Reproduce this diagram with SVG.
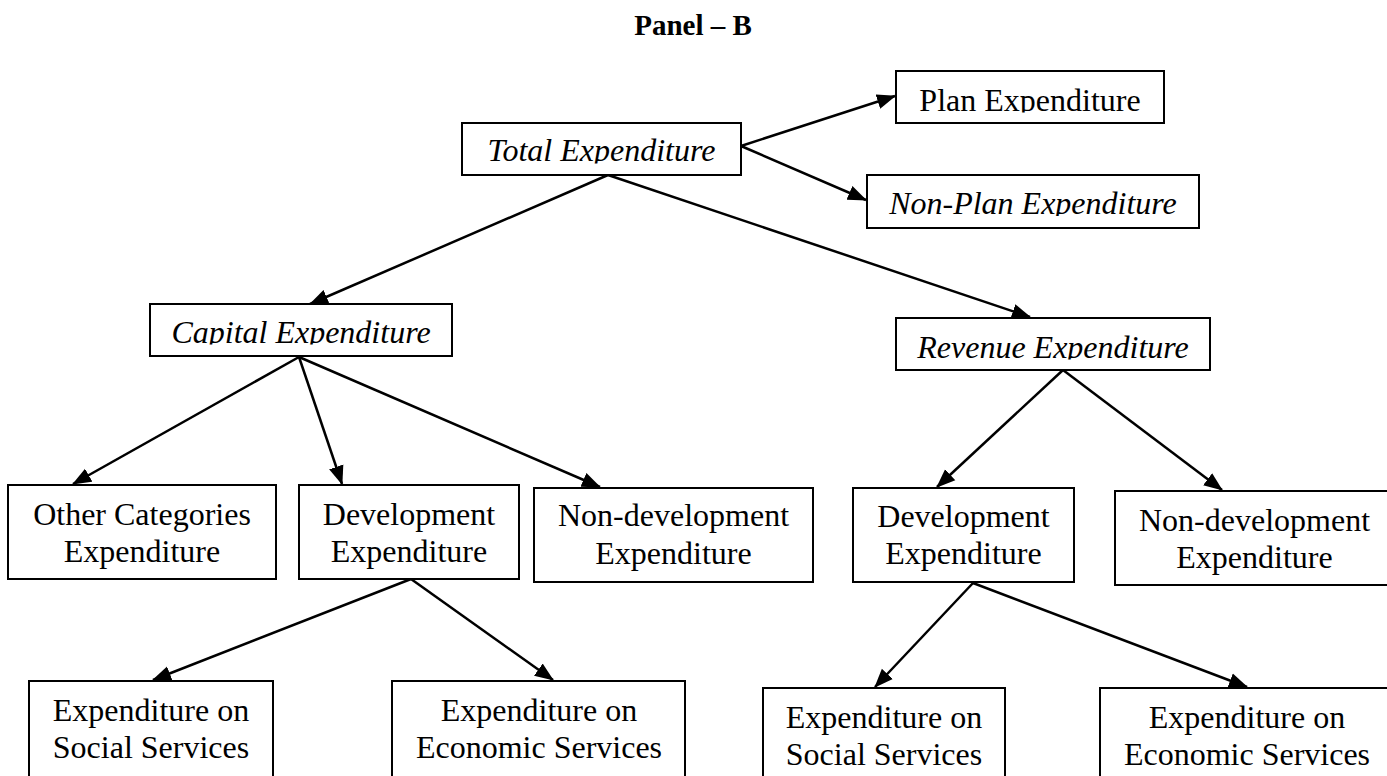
<svg xmlns="http://www.w3.org/2000/svg" width="1387" height="776" viewBox="0 0 1387 776">
<style>
  .box { fill: #ffffff; stroke: #000000; stroke-width: 2; }
  .t { font-family: "Liberation Serif", "Times New Roman", serif; font-size: 32px; fill: #000000; text-anchor: middle; }
  .it { font-style: italic; }
  .title { font-family: "Liberation Serif", "Times New Roman", serif; font-size: 29px; font-weight: bold; fill: #000000; text-anchor: middle; }
  .conn { stroke: #000000; stroke-width: 2.5; fill: none; marker-end: url(#arrow); }
</style>
<defs>
  <marker id="arrow" markerUnits="userSpaceOnUse" markerWidth="19" markerHeight="16" refX="18" refY="8" orient="auto">
    <path d="M0,0.5 L19,8 L0,15.5 z" fill="#000000"/>
  </marker>
  <clipPath id="clipTotal"><rect x="462" y="123" width="279" height="40.5"/></clipPath>
  <clipPath id="clipPlan"><rect x="896" y="71" width="268" height="41.5"/></clipPath>
  <clipPath id="clipNonPlan"><rect x="867" y="175" width="332" height="41"/></clipPath>
  <clipPath id="clipCapital"><rect x="150" y="304" width="302" height="40.5"/></clipPath>
  <clipPath id="clipRevenue"><rect x="896" y="318" width="314" height="41.5"/></clipPath>
</defs>
<rect x="0" y="0" width="1387" height="776" fill="#ffffff"/>

<g id="title">
  <text class="title" x="693" y="35">Panel – B</text>
</g>

<g id="connectors">
  <line class="conn" x1="741" y1="146" x2="895" y2="96"/>
  <line class="conn" x1="741" y1="146" x2="866" y2="200"/>
  <line class="conn" x1="608" y1="175" x2="310" y2="304"/>
  <line class="conn" x1="608" y1="175" x2="1030" y2="317"/>
  <line class="conn" x1="299" y1="357" x2="73" y2="484"/>
  <line class="conn" x1="299" y1="357" x2="342" y2="484"/>
  <line class="conn" x1="299" y1="357" x2="600" y2="487"/>
  <line class="conn" x1="1063" y1="370" x2="937" y2="487"/>
  <line class="conn" x1="1063" y1="370" x2="1222" y2="490"/>
  <line class="conn" x1="411" y1="579" x2="153" y2="680"/>
  <line class="conn" x1="411" y1="579" x2="553" y2="680"/>
  <line class="conn" x1="973" y1="583" x2="875" y2="687"/>
  <line class="conn" x1="973" y1="583" x2="1247" y2="687"/>
</g>

<g id="node-total">
  <rect class="box" x="462" y="123" width="279" height="52"/>
  <text class="t it" x="601.5" y="161" clip-path="url(#clipTotal)">Total Expenditure</text>
</g>
<g id="node-plan">
  <rect class="box" x="896" y="71" width="268" height="52"/>
  <text class="t" x="1030" y="110.5" clip-path="url(#clipPlan)">Plan Expenditure</text>
</g>
<g id="node-nonplan">
  <rect class="box" x="867" y="175" width="332" height="53"/>
  <text class="t it" x="1033" y="214" clip-path="url(#clipNonPlan)">Non-Plan Expenditure</text>
</g>
<g id="node-capital">
  <rect class="box" x="150" y="304" width="302" height="52"/>
  <text class="t it" x="301" y="343" clip-path="url(#clipCapital)">Capital Expenditure</text>
</g>
<g id="node-revenue">
  <rect class="box" x="896" y="318" width="314" height="52"/>
  <text class="t it" x="1053" y="357.5" clip-path="url(#clipRevenue)">Revenue Expenditure</text>
</g>
<g id="node-other">
  <rect class="box" x="8" y="485" width="268" height="94"/>
  <text class="t" x="142" y="524.5">Other Categories</text>
  <text class="t" x="142" y="561.5">Expenditure</text>
</g>
<g id="node-dev-capital">
  <rect class="box" x="299" y="485" width="220" height="94"/>
  <text class="t" x="409" y="524.5">Development</text>
  <text class="t" x="409" y="561.5">Expenditure</text>
</g>
<g id="node-nondev-capital">
  <rect class="box" x="534" y="488" width="279" height="94"/>
  <text class="t" x="673.5" y="526">Non-development</text>
  <text class="t" x="673.5" y="564">Expenditure</text>
</g>
<g id="node-dev-revenue">
  <rect class="box" x="853" y="488" width="221" height="94"/>
  <text class="t" x="963.5" y="526.5">Development</text>
  <text class="t" x="963.5" y="564">Expenditure</text>
</g>
<g id="node-nondev-revenue">
  <rect class="box" x="1115" y="491" width="279" height="94"/>
  <text class="t" x="1254.5" y="530.5">Non-development</text>
  <text class="t" x="1254.5" y="568">Expenditure</text>
</g>
<g id="node-social-capital">
  <rect class="box" x="29" y="681" width="244" height="110"/>
  <text class="t" x="151" y="721">Expenditure on</text>
  <text class="t" x="151" y="758">Social Services</text>
</g>
<g id="node-economic-capital">
  <rect class="box" x="392" y="681" width="293" height="110"/>
  <text class="t" x="539" y="721">Expenditure on</text>
  <text class="t" x="539" y="758">Economic Services</text>
</g>
<g id="node-social-revenue">
  <rect class="box" x="763" y="688" width="242" height="110"/>
  <text class="t" x="884" y="728">Expenditure on</text>
  <text class="t" x="884" y="765">Social Services</text>
</g>
<g id="node-economic-revenue">
  <rect class="box" x="1100" y="688" width="294" height="110"/>
  <text class="t" x="1247" y="728">Expenditure on</text>
  <text class="t" x="1247" y="765">Economic Services</text>
</g>
</svg>
